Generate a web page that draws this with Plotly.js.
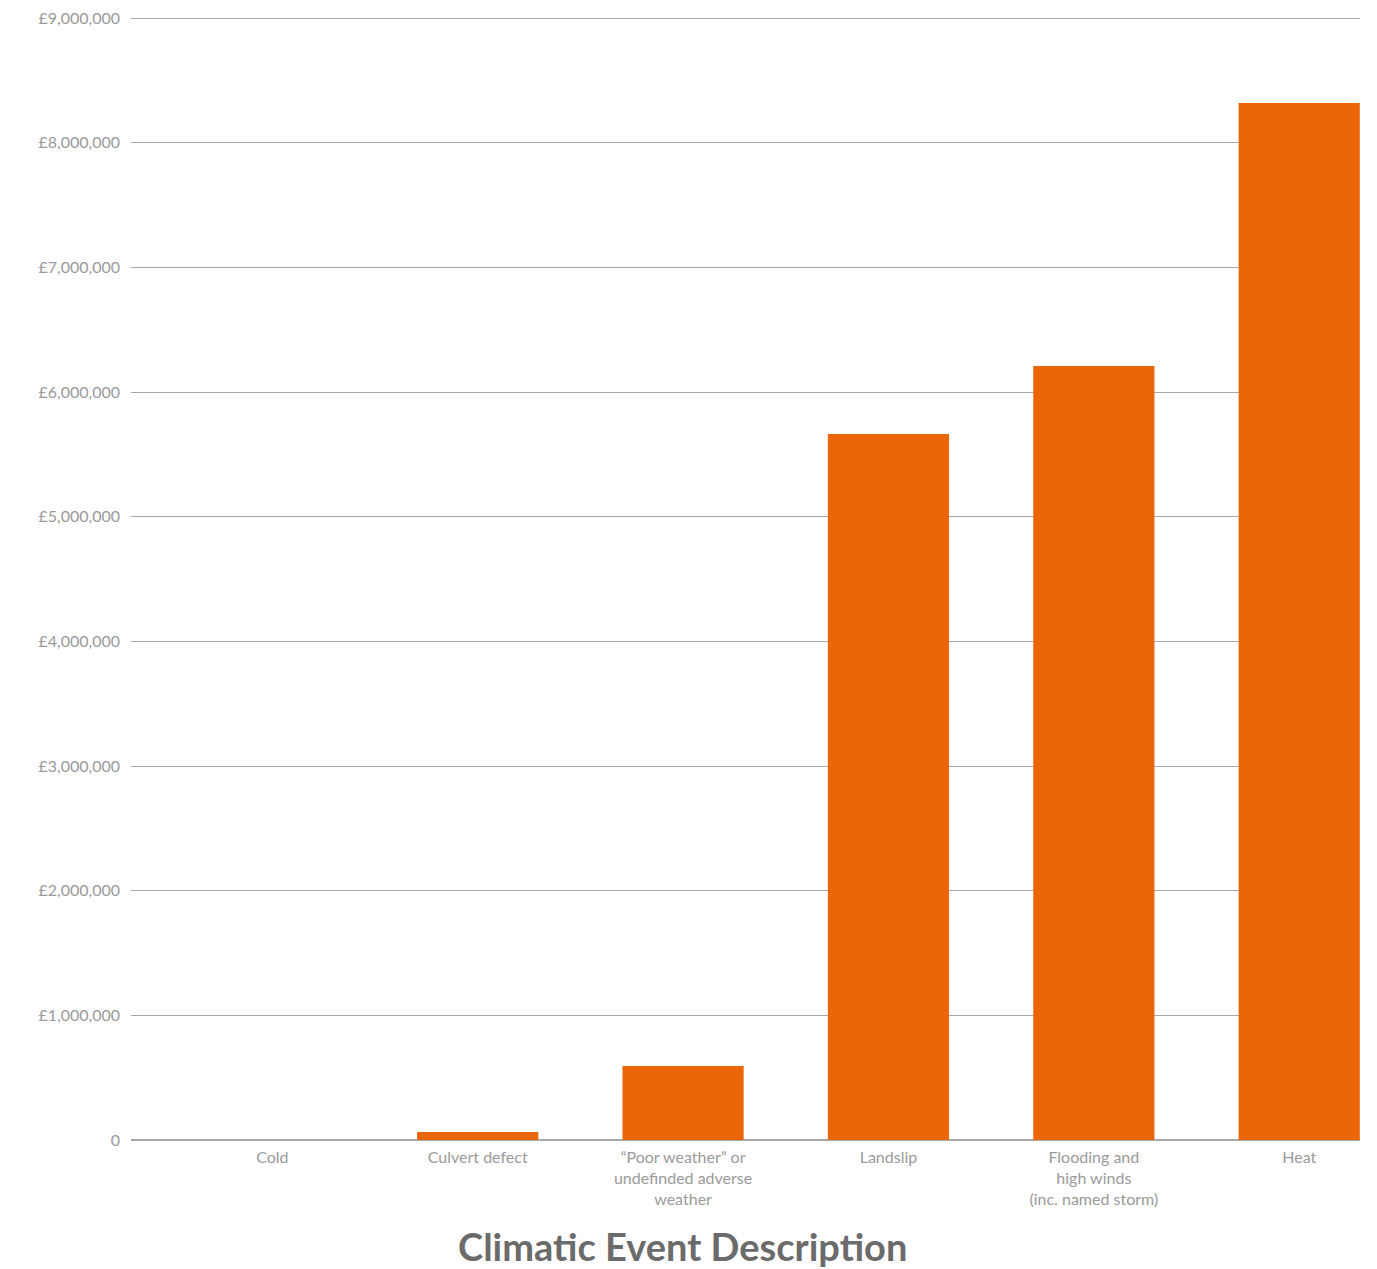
<!DOCTYPE html>
<html>
<head>
<meta charset="utf-8">
<script src="https://cdn.plot.ly/plotly-3.0.1.min.js"></script>
<style>
  html, body { margin: 0; padding: 0; background: #ffffff; }
  #chart { width: 1377px; height: 1269px; }
</style>
</head>
<body>
<div id="chart"></div>
<script>
// Cost by climatic event type (£)
const categories = [
  "Cold",
  "Culvert defect",
  "\u201cPoor weather\u201d or<br>undefinded adverse<br>weather",
  "Landslip",
  "Flooding and<br>high winds<br>(inc. named storm)",
  "Heat"
];
const costs = [0, 64000, 594000, 5665000, 6210000, 8320000];

const tickValues = [0, 1000000, 2000000, 3000000, 4000000, 5000000, 6000000, 7000000, 8000000, 9000000];
const tickLabels = ["0", "£1,000,000", "£2,000,000", "£3,000,000", "£4,000,000",
                    "£5,000,000", "£6,000,000", "£7,000,000", "£8,000,000", "£9,000,000"];

const xTitle = "Climatic Event Description";

const fontFamily = "Lato, 'Open Sans', sans-serif";

const trace = {
  type: "bar",
  x: categories,
  y: costs,
  marker: { color: "#EB6608", line: { width: 0 } },
  hoverinfo: "x+y"
};

const layout = {
  width: 1377,
  height: 1269,
  margin: { l: 131, r: 17, t: 17, b: 129 },
  paper_bgcolor: "#ffffff",
  plot_bgcolor: "#ffffff",
  bargap: 0.41,
  showlegend: false,
  font: { family: fontFamily, color: "#9a9a9a", size: 16 },
  xaxis: {
    type: "category",
    range: [-0.688, 5.296],
    showgrid: false,
    showline: false,
    zeroline: false,
    ticks: "",
    ticklabelstandoff: 6,
    tickfont: { family: fontFamily, size: 16, color: "#9a9a9a" }
  },
  yaxis: {
    range: [0, 9010000],
    tickvals: tickValues,
    ticktext: tickLabels,
    showgrid: true,
    gridcolor: "#a8a8a8",
    gridwidth: 1,
    zeroline: true,
    zerolinecolor: "#a8a8a8",
    zerolinewidth: 1.5,
    showline: false,
    ticks: "",
    ticklabelstandoff: 10,
    tickfont: { family: fontFamily, size: 16, color: "#9a9a9a" }
  },
  annotations: [{
    text: "<b>" + xTitle + "</b>",
    xref: "paper",
    yref: "paper",
    x: 0.449,
    y: -0.094,
    xanchor: "center",
    yanchor: "middle",
    showarrow: false,
    font: { family: fontFamily, size: 38, color: "#6b6b6b" }
  }]
};

Plotly.newPlot("chart", [trace], layout, { displayModeBar: false, staticPlot: true });
</script>
</body>
</html>
